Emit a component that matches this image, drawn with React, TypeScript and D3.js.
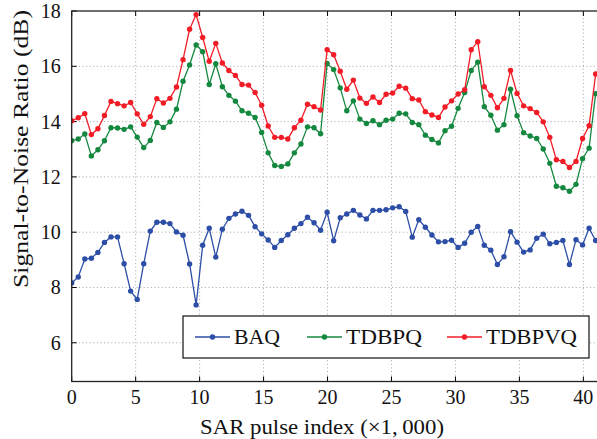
import * as d3 from "d3";

// sampling step along the pulse axis (x1,000 pulses)
const STEP = 0.512;

const BAQ = [
  8.16, 8.38, 9.03, 9.06, 9.27, 9.63, 9.83, 9.83, 8.86, 7.87, 7.57, 8.86,
  10.04, 10.36, 10.36, 10.31, 10.01, 9.89, 8.85, 7.37, 9.53, 10.14, 9.1, 10.11,
  10.5, 10.66, 10.76, 10.61, 10.2, 9.94, 9.72, 9.45, 9.7, 9.91, 10.14, 10.31,
  10.54, 10.34, 10.07, 10.72, 9.69, 10.52, 10.66, 10.79, 10.62, 10.48, 10.79, 10.79,
  10.81, 10.88, 10.92, 10.75, 9.82, 10.45, 10.18, 9.9, 9.65, 9.66, 9.71, 9.45,
  9.6, 10.0, 10.21, 9.53, 9.35, 8.83, 9.11, 10.02, 9.64, 9.28, 9.36, 9.78,
  9.93, 9.58, 9.63, 9.7, 8.83, 9.73, 9.54, 10.14, 9.7,
];

const TDBPQ = [
  13.31, 13.37, 13.55, 12.76, 12.98, 13.31, 13.78, 13.77, 13.72, 13.81, 13.44, 13.06,
  13.32, 13.97, 13.79, 13.99, 14.45, 15.46, 16.05, 16.77, 16.53, 15.34, 16.09, 15.26,
  14.95, 14.74, 14.39, 14.3, 14.15, 13.61, 12.87, 12.41, 12.38, 12.47, 12.87, 13.19,
  13.81, 13.78, 13.56, 16.1, 15.88, 15.22, 14.39, 14.75, 14.09, 13.93, 14.03, 13.89,
  14.05, 14.09, 14.3, 14.28, 13.97, 13.89, 13.51, 13.35, 13.23, 13.67, 13.83, 14.48,
  15.05, 15.85, 16.15, 14.54, 14.23, 13.69, 13.89, 15.17, 14.21, 13.6, 13.48, 13.39,
  13.01, 12.49, 11.66, 11.61, 11.48, 11.73, 12.66, 13.04, 15.01,
];

const TDBPVQ = [
  14.03, 14.14, 14.29, 13.53, 13.74, 14.22, 14.73, 14.65, 14.57, 14.69, 14.28, 13.9,
  14.18, 14.83, 14.67, 14.84, 15.25, 16.24, 17.34, 17.87, 17.04, 16.18, 16.83, 16.12,
  15.85, 15.67, 15.34, 15.32, 15.05, 14.59, 13.84, 13.43, 13.43, 13.37, 13.78, 14.05,
  14.63, 14.54, 14.42, 16.6, 16.42, 15.82, 15.17, 15.5, 14.85, 14.66, 14.89, 14.69,
  14.99, 15.03, 15.28, 15.21, 14.83, 14.78, 14.36, 14.24, 14.15, 14.53, 14.75, 15.0,
  15.15, 16.6, 16.89, 15.26, 14.95, 14.5, 14.84, 15.85, 15.02, 14.57, 14.47, 14.33,
  13.99, 13.43, 12.62, 12.56, 12.34, 12.56, 13.39, 13.85, 15.72,
];

const X_TICKS = [0, 5, 10, 15, 20, 25, 30, 35, 40];
const Y_TICKS = [6, 8, 10, 12, 14, 16, 18];

const SERIES = [
  { name: "BAQ", values: BAQ, color: "#2c4ea6" },
  { name: "TDBPQ", values: TDBPQ, color: "#14883f" },
  { name: "TDBPVQ", values: TDBPVQ, color: "#f21c26" },
];

const W = 597;
const H = 439;
const LEFT = 71.7;
const TOP = 11;
const BOTTOM = 381.5;
const RIGHT = 600;

const FONT = "'Liberation Serif', 'Times New Roman', serif";

export default function App() {
  const x = d3.scaleLinear().domain([0, 41.3]).range([LEFT, RIGHT]);
  const y = d3.scaleLinear().domain([4.6, 18]).range([BOTTOM, TOP]);

  const line = d3
    .line<number>()
    .x((_, i) => x(i * STEP))
    .y((d) => y(d));

  // legend layout
  const legend = [
    { x0: 195, x1: 230, tx: 234, w: 46 },
    { x0: 307, x1: 342, tx: 346, w: 76 },
    { x0: 447, x1: 482, tx: 486, w: 91 },
  ];

  return (
    <svg
      width={W}
      height={H}
      style={{ position: "absolute", left: 0, top: 0, background: "#fff" }}
      fontFamily={FONT}
    >
      <defs>
        <clipPath id="plot">
          <rect x={LEFT} y={TOP - 4} width={RIGHT - LEFT} height={BOTTOM - TOP + 4} />
        </clipPath>
      </defs>

      {/* grid */}
      <g stroke="#9a9a9a" strokeWidth={0.9} strokeDasharray="1,2.6">
        {X_TICKS.filter((t) => t > 0).map((t) => (
          <line key={"gx" + t} x1={x(t)} x2={x(t)} y1={TOP} y2={BOTTOM} />
        ))}
        {Y_TICKS.filter((t) => t < 18).map((t) => (
          <line key={"gy" + t} x1={LEFT} x2={RIGHT} y1={y(t)} y2={y(t)} />
        ))}
      </g>

      {/* ticks */}
      <g stroke="#000" strokeWidth={1}>
        {X_TICKS.map((t) => (
          <g key={"tx" + t}>
            <line x1={x(t)} x2={x(t)} y1={BOTTOM} y2={BOTTOM - 5} />
            <line x1={x(t)} x2={x(t)} y1={TOP} y2={TOP + 5} />
          </g>
        ))}
        {Y_TICKS.map((t) => (
          <line key={"ty" + t} x1={LEFT} x2={LEFT + 5} y1={y(t)} y2={y(t)} />
        ))}
      </g>

      {/* series */}
      <g clipPath="url(#plot)">
        {SERIES.map((s) => (
          <g key={s.name}>
            <path d={line(s.values) || ""} fill="none" stroke={s.color} strokeWidth={1.3} />
            {s.values.map((v, i) => (
              <circle key={i} cx={x(i * STEP)} cy={y(v)} r={2.7} fill={s.color} />
            ))}
          </g>
        ))}
      </g>

      {/* frame */}
      <rect
        x={LEFT}
        y={TOP}
        width={RIGHT - LEFT}
        height={BOTTOM - TOP}
        fill="none"
        stroke="#222"
        strokeWidth={1.3}
      />

      {/* tick labels */}
      <g fontSize={20} fill="#111">
        {X_TICKS.map((t) => (
          <text key={"lx" + t} x={x(t)} y={404} textAnchor="middle">
            {t}
          </text>
        ))}
        {Y_TICKS.map((t) => (
          <text key={"ly" + t} x={LEFT - 11} y={y(t) + 7} textAnchor="end">
            {t}
          </text>
        ))}
      </g>

      {/* axis titles */}
      <text
        x={200}
        y={434}
        fontSize={21}
        fill="#111"
        textLength={244}
        lengthAdjust="spacingAndGlyphs"
      >
        SAR pulse index (×1,{"\u2009"}000)
      </text>
      <text
        transform="translate(28,288) rotate(-90)"
        fontSize={21}
        fill="#111"
        textLength={278}
        lengthAdjust="spacingAndGlyphs"
      >
        Signal-to-Noise Ratio (dB)
      </text>

      {/* legend */}
      <rect x={183} y={316} width={406} height={42} fill="#fff" stroke="#111" strokeWidth={1.2} />
      {SERIES.map((s, i) => {
        const l = legend[i];
        return (
          <g key={"lg" + s.name}>
            <line x1={l.x0} x2={l.x1} y1={337} y2={337} stroke={s.color} strokeWidth={1.3} />
            <circle cx={(l.x0 + l.x1) / 2} cy={337} r={2.7} fill={s.color} />
            <text
              x={l.tx}
              y={344}
              fontSize={22}
              fill="#111"
              textLength={l.w}
              lengthAdjust="spacingAndGlyphs"
            >
              {s.name}
            </text>
          </g>
        );
      })}
    </svg>
  );
}
